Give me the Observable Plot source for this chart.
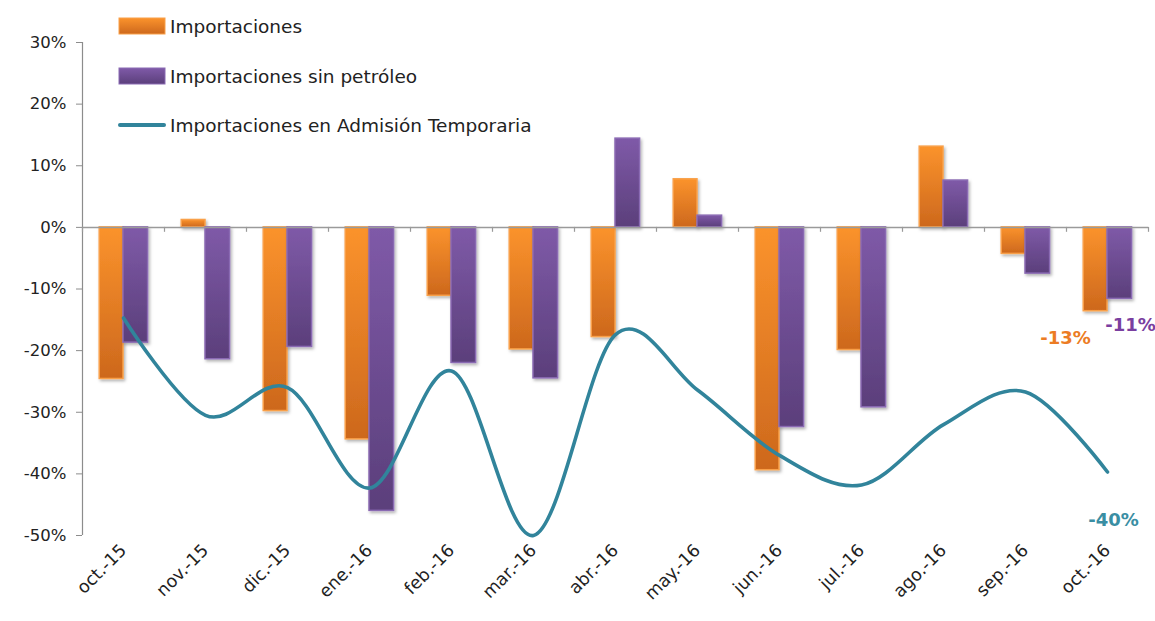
<!DOCTYPE html>
<html>
<head>
<meta charset="utf-8">
<script src="https://cdn.jsdelivr.net/npm/d3@7"></script>
<script src="https://cdn.jsdelivr.net/npm/@observablehq/plot@0.6"></script>
<style>
  html, body { margin: 0; padding: 0; background: #fff; }
  #wrap { position: relative; width: 1155px; height: 621px; font-family: "DejaVu Sans", sans-serif; }
  #legend { position: absolute; left: 118px; top: 14px; font-size: 18.5px; color: #222; }
  .item { position: absolute; left: 0; white-space: nowrap; display: flex; align-items: center; }
  .item svg { margin-right: 4px; }
</style>
</head>
<body>
<div id="wrap">
  <div id="chart"></div>
  <div id="legend"></div>
</div>
<script>
const months = ["oct.-15","nov.-15","dic.-15","ene.-16","feb.-16","mar.-16","abr.-16","may.-16","jun.-16","jul.-16","ago.-16","sep.-16","oct.-16"];
const importaciones = [-24.6, 1.2, -29.8, -34.4, -11.1, -19.8, -17.8, 7.8, -39.4, -19.9, 13.1, -4.3, -13.6];
const sinPetroleo   = [-18.7, -21.4, -19.4, -46.0, -22.0, -24.5, 14.4, 1.9, -32.4, -29.2, 7.6, -7.5, -11.6];
const admisionTemp  = [-14.7, -30.5, -26.0, -42.3, -23.3, -50.0, -17.4, -26.4, -37.0, -41.8, -32.0, -26.7, -39.7];
const yTicks = [30, 20, 10, 0, -10, -20, -30, -40, -50];
const seriesNames = ["Importaciones", "Importaciones sin petróleo", "Importaciones en Admisión Temporaria"];
const endLabels = [
  {text: "-13%", series: 0},
  {text: "-11%", series: 1},
  {text: "-40%", series: 2}
];

const data = months.map((m, i) => ({i, m, imp: importaciones[i], sp: sinPetroleo[i], adm: admisionTemp[i]}));
const last = data[data.length - 1];
const bounds = d3.range(months.length + 1).map(i => i - 0.5);

const TEAL = "#31849b";
const font = "DejaVu Sans, sans-serif";

const chart = Plot.plot({
  width: 1155,
  height: 621,
  marginLeft: 82,
  marginRight: 7,
  marginTop: 42,
  marginBottom: 86,
  style: {fontFamily: font, fontSize: "16px", color: "#222", background: "#fff"},
  x: {type: "linear", domain: [-0.5, months.length - 0.5], axis: null, label: null},
  y: {domain: [-50, 30], axis: null, label: null},
  marks: [
    Plot.axisY({ticks: yTicks, tickFormat: d => d + "%", tickSize: 6, tickPadding: 10, stroke: "#8c8c8c", fontSize: 16.5, fill: "#222", label: null}),
    Plot.axisX({ticks: d3.range(months.length), tickFormat: i => months[i], tickRotate: -45, tickSize: 0, tickPadding: 12, fontSize: 17.5, fill: "#222", frameAnchor: "bottom", label: null}),
    Plot.ruleX([-0.5], {y1: -50, y2: 30, stroke: "#8c8c8c", strokeWidth: 1.2}),
    Plot.rect(data, {x1: d => d.i - 0.29, x2: d => d.i, y1: 0, y2: "imp", fill: "url(#gradO)", stroke: "#f9a048", strokeWidth: 1.5}),
    Plot.rect(data, {x1: d => d.i, x2: d => d.i + 0.3, y1: 0, y2: "sp", fill: "url(#gradP)", stroke: "#8a6ab3", strokeWidth: 1.5}),
    Plot.ruleY([0], {stroke: "#9a9a9a", strokeWidth: 1.5}),
    Plot.ruleX(bounds, {x: d => d, y1: 0, y2: -0.8, stroke: "#9a9a9a", strokeWidth: 1.2}),
    Plot.line(data, {x: "i", y: "adm", curve: "cardinal", stroke: TEAL, strokeWidth: 3.6, strokeLinecap: "round", strokeLinejoin: "round"}),
    Plot.text([endLabels[0]], {x: () => last.i, y: () => last.imp, text: "text", dx: -42, dy: 27, fill: "#ec7c24", fontSize: 18, fontWeight: 600}),
    Plot.text([endLabels[1]], {x: () => last.i, y: () => last.sp, text: "text", dx: 23, dy: 26, fill: "#7a3fa0", fontSize: 18, fontWeight: 600}),
    Plot.text([endLabels[2]], {x: () => last.i, y: () => last.adm, text: "text", dx: 6, dy: 48, fill: "#3a8ea3", fontSize: 18, fontWeight: 600})
  ]
});

// gradients + shadow
const svg = d3.select(chart);
const defs = svg.insert("defs", ":first-child");
function grad(id, top, bottom) {
  const g = defs.append("linearGradient").attr("id", id).attr("x1", 0).attr("y1", 0).attr("x2", 0).attr("y2", 1);
  g.append("stop").attr("offset", "0%").attr("stop-color", top);
  g.append("stop").attr("offset", "100%").attr("stop-color", bottom);
}
grad("gradO", "#fb932c", "#cd681d");
grad("gradP", "#7f5aa8", "#5b3f7b");
const f = defs.append("filter").attr("id", "shadow").attr("x", "-20%").attr("y", "-20%").attr("width", "150%").attr("height", "150%");
f.append("feDropShadow").attr("dx", 1.5).attr("dy", 2).attr("stdDeviation", 1.5).attr("flood-color", "#000").attr("flood-opacity", 0.3);
svg.selectAll('g[aria-label="rect"]').attr("filter", "url(#shadow)");
svg.selectAll('g[aria-label="x-axis tick label"] text').attr("text-anchor", "end");

document.getElementById("chart").appendChild(chart);

// legend
const legend = d3.select("#legend");
const swatches = [
  {name: seriesNames[0], kind: "rect", fill: "url(#lgO)", stroke: "#f9a048", top: 0},
  {name: seriesNames[1], kind: "rect", fill: "url(#lgP)", stroke: "#8a6ab3", top: 50},
  {name: seriesNames[2], kind: "line", stroke: TEAL, top: 99}
];
swatches.forEach((s, k) => {
  const item = legend.append("div").attr("class", "item").style("top", s.top + "px");
  const sw = item.append("svg").attr("width", 48).attr("height", 24);
  if (s.kind === "rect") {
    const d = sw.append("defs").append("linearGradient").attr("id", k === 0 ? "lgO" : "lgP").attr("x1", 0).attr("y1", 0).attr("x2", 0).attr("y2", 1);
    d.append("stop").attr("offset", "0%").attr("stop-color", k === 0 ? "#fb932c" : "#7f5aa8");
    d.append("stop").attr("offset", "100%").attr("stop-color", k === 0 ? "#cd681d" : "#5b3f7b");
    sw.append("rect").attr("x", 1).attr("y", 4).attr("width", 46).attr("height", 16).attr("fill", s.fill).attr("stroke", s.stroke).attr("stroke-width", 1);
  } else {
    sw.append("line").attr("x1", 2).attr("x2", 46).attr("y1", 12).attr("y2", 12).attr("stroke", s.stroke).attr("stroke-width", 4).attr("stroke-linecap", "round");
  }
  item.append("span").text(s.name);
});
</script>
</body>
</html>
